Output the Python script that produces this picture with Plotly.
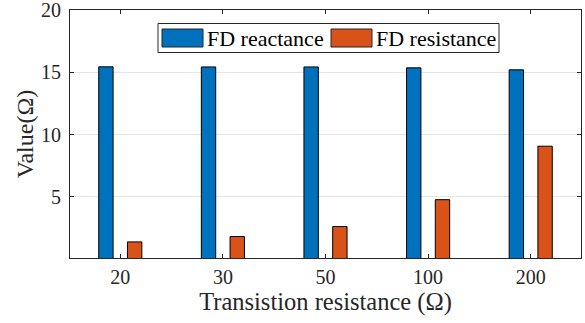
import plotly.graph_objects as go

categories = ["20", "30", "50", "100", "200"]
fd_reactance = [15.44, 15.43, 15.43, 15.36, 15.20]
fd_resistance = [1.39, 1.82, 2.62, 4.78, 9.07]
series_names = ["FD reactance", "FD resistance"]
series_colors = ["#0072BD", "#D95319"]
y_ticks = [5, 10, 15, 20]

W, H = 585, 323
ML, MR, MT, MB = 70, 4, 10, 65
FONT = "Times New Roman, Liberation Serif, DejaVu Serif, serif"
TXT = "#262626"

fig = go.Figure()
for name, vals, col in zip(series_names, [fd_reactance, fd_resistance], series_colors):
    fig.add_trace(go.Bar(
        x=categories, y=vals, name=name,
        marker=dict(color=col, line=dict(color="#000000", width=1)),
        showlegend=False,
    ))

pw = W - ML - MR
ph = H - MT - MB


def px(x):
    return (x - ML) / pw


def py(y):
    return 1 - (y - MT) / ph


shapes = []
annotations = []
# legend box
shapes.append(dict(type="rect", xref="paper", yref="paper",
                   x0=px(158), x1=px(499), y0=py(52.5), y1=py(23.5),
                   line=dict(color="#262626", width=1), fillcolor="white", layer="above"))
sw = [(162, 203), (331, 372)]
tx = [205, 374]
for (a, b), t, name, col in zip(sw, tx, series_names, series_colors):
    shapes.append(dict(type="rect", xref="paper", yref="paper",
                       x0=px(a), x1=px(b), y0=py(47), y1=py(29),
                       line=dict(color="#262626", width=1), fillcolor=col, layer="above"))
    annotations.append(dict(text=name, xref="paper", yref="paper", x=px(t), y=py(38),
                            xanchor="left", yanchor="middle", showarrow=False,
                            font=dict(family=FONT, size=22, color="#000000")))

fig.update_layout(
    width=W, height=H,
    margin=dict(l=ML, r=MR, t=MT, b=MB, autoexpand=False),
    paper_bgcolor="white", plot_bgcolor="white",
    barmode="group", bargap=0.44, bargroupgap=0.5,
    font=dict(family=FONT, color=TXT),
    shapes=shapes, annotations=annotations,
    xaxis=dict(
        type="category", range=[-0.49, 4.49], automargin=False,
        showline=True, linecolor=TXT, linewidth=1, mirror="ticks",
        ticks="inside", ticklen=4, tickcolor=TXT, showgrid=False,
        tickfont=dict(family=FONT, size=20, color=TXT),
        ticklabelstandoff=1,
        title=dict(text="Transistion resistance (Ω)", standoff=2,
                   font=dict(family=FONT, size=24.5, color=TXT)),
    ),
    yaxis=dict(
        range=[0.1, 20], tickvals=y_ticks, automargin=False,
        showline=True, linecolor=TXT, linewidth=1, mirror="ticks",
        ticks="inside", ticklen=4, tickcolor=TXT,
        showgrid=True, gridcolor="#E6E6E6", gridwidth=1, zeroline=False,
        tickfont=dict(family=FONT, size=20, color=TXT),
        ticklabelstandoff=4, ticklabeloverflow="allow",
        title=dict(text="Value(Ω)", standoff=0,
                   font=dict(family=FONT, size=24, color=TXT)),
    ),
)

fig.write_html("out.html")
